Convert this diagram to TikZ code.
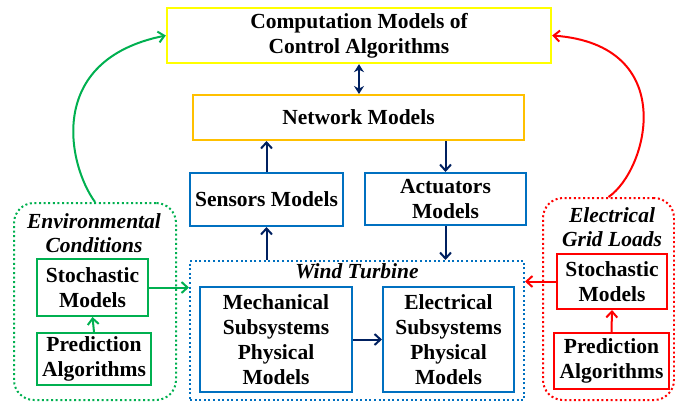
\documentclass[tikz,border=0pt]{standalone}
\usepackage{fontspec}
\setmainfont{Liberation Serif}
\usetikzlibrary{arrows.meta}
\definecolor{cyel}{RGB}{255,255,0}
\definecolor{corg}{RGB}{255,192,0}
\definecolor{cblu}{RGB}{0,112,192}
\definecolor{cnav}{RGB}{0,32,96}
\definecolor{cgrn}{RGB}{0,176,80}
\definecolor{cred}{RGB}{255,0,0}
\tikzset{
  txt/.style={font=\fontsize{21.5}{25}\selectfont\bfseries, align=center, inner sep=0pt},
  itxt/.style={font=\fontsize{21.5}{24}\selectfont\bfseries\itshape, align=center, inner sep=0pt},
  box/.style={txt, draw, line width=2pt, fill=white},
  dotbox/.style={draw, line width=2pt, dash pattern=on 2pt off 2.6pt},
  navarrow/.style={draw=cnav, line width=2pt, -{Straight Barb[length=6pt,width=11pt]}},
  colarrow/.style={line width=2pt, -{Straight Barb[length=6pt,width=11pt]}}
}
\begin{document}
\begin{tikzpicture}[x=1pt,y=-1pt]
\useasboundingbox (0,0) rectangle (675,402);
% upper chain of models
\node[box, draw=cyel, line width=2.4pt, minimum width=384, minimum height=55] (comp) at (359,35.5) {Computation Models of\\Control Algorithms};
\node[box, draw=corg, minimum width=331, minimum height=45] (net) at (358.5,117.5) {Network Models};
\node[box, draw=cblu, minimum width=153, minimum height=53] (sens) at (266.5,199.5) {Sensors Models};
\node[box, draw=cblu, minimum width=161, minimum height=52] (act) at (445.5,199) {Actuators\\Models};
% wind turbine group
\node[dotbox, draw=cblu, minimum width=334, minimum height=139] (wt) at (357,330.5) {};
\node[itxt] (wtl) at (357,271.5) {Wind Turbine};
\node[box, draw=cblu, minimum width=152, minimum height=105] (mech) at (276,339.5) {Mechanical\\Subsystems\\Physical\\Models};
\node[box, draw=cblu, minimum width=131, minimum height=105] (elec) at (448.5,339.5) {Electrical\\Subsystems\\Physical\\Models};
% environmental conditions group
\node[dotbox, draw=cgrn, rounded corners=20pt, minimum width=162, minimum height=197] (env) at (95,301.5) {};
\node[itxt] (envl) at (94,233.5) {Environmental\\Conditions};
\node[box, draw=cgrn, minimum width=111, minimum height=57] (gs) at (92.5,287.5) {Stochastic\\Models};
\node[box, draw=cgrn, minimum width=114, minimum height=52] (gp) at (94,359) {Prediction\\Algorithms};
% electrical grid loads group
\node[dotbox, draw=cred, rounded corners=20pt, minimum width=131, minimum height=202] (grid) at (608.5,299) {};
\node[itxt] (gridl) at (612,227.5) {Electrical\\Grid Loads};
\node[box, draw=cred, minimum width=110, minimum height=55] (rs) at (612,281.5) {Stochastic\\Models};
\node[box, draw=cred, minimum width=115, minimum height=56] (rp) at (611.5,361) {Prediction\\Algorithms};
% navy connectors
\draw[draw=cnav, line width=2pt, {Stealth[length=8pt,width=10pt]}-{Stealth[length=8pt,width=10pt]}] (comp.south) -- (comp.south |- net.north);
\draw[navarrow] (sens.north) -- (sens.north |- net.south);
\draw[navarrow] (net.south -| act.north) -- (act.north);
\draw[navarrow] (sens.south |- wt.north) -- (sens.south);
\draw[navarrow] (act.south) -- (act.south |- wt.north);
\draw[navarrow] (mech.east) -- (elec.west);
% green connectors
\draw[colarrow, cgrn] (gp.north) -- (gs.south);
\draw[colarrow, cgrn] (gs.east) -- (gs.east -| wt.west);
\draw[colarrow, cgrn] (env.north) .. controls (68,165) and (45,60) .. (comp.west);
% red connectors
\draw[colarrow, cred] (rp.north) -- (rs.south);
\draw[colarrow, cred] (rs.west) -- (rs.west -| wt.east);
\draw[colarrow, cred] (grid.north) .. controls (648,170) and (680,45) .. (comp.east);
\end{tikzpicture}
\end{document}
